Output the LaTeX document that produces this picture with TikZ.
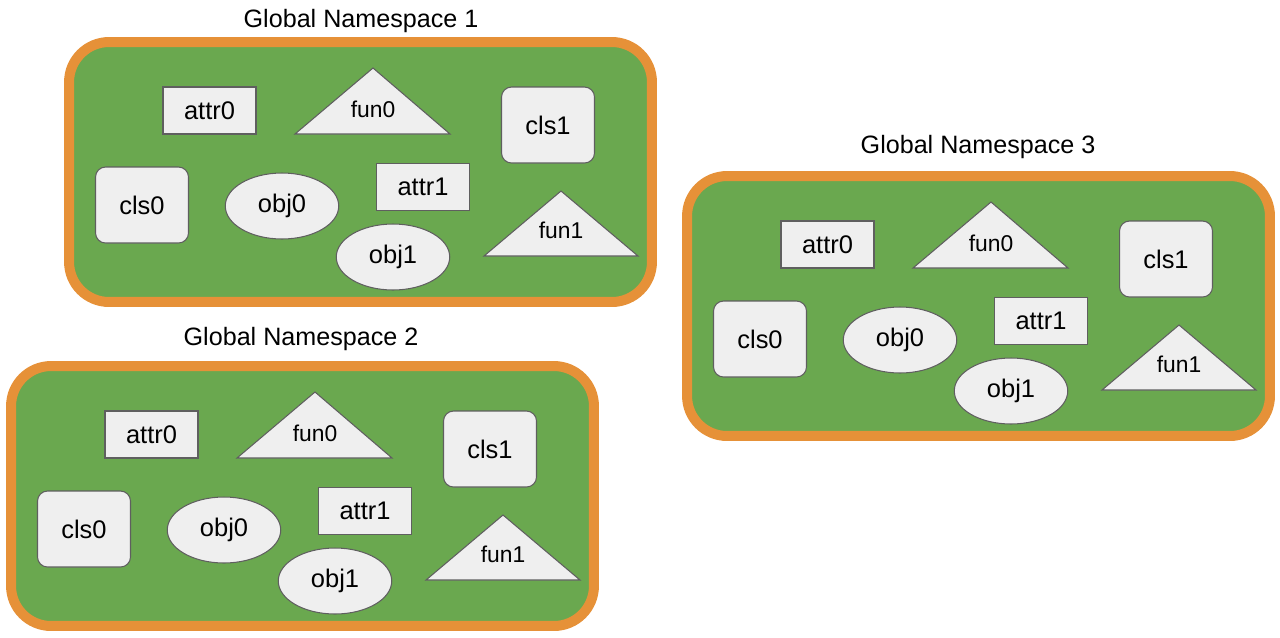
\documentclass[tikz,border=0pt]{standalone}
\usepackage{fontspec}
\setmainfont{Liberation Sans}
\usetikzlibrary{shapes.geometric, positioning}
\definecolor{frameorange}{HTML}{E69138}
\definecolor{spacegreen}{HTML}{6AA84F}
\definecolor{itemfill}{HTML}{EFEFEF}
\definecolor{itemline}{HTML}{5F5F5F}
\tikzset{
  nsframe/.style={
    rectangle, rounded corners=0.8cm,
    draw=frameorange, fill=spacegreen, line width=0.2cm,
    minimum width=11.66cm, minimum height=5.2cm
  },
  nstitle/.style={anchor=base, font=\fontsize{14.3}{17}\selectfont},
  item/.style={
    draw=itemline, fill=itemfill, line width=0.6pt, inner sep=0pt,
    font=\fontsize{14.5}{17}\selectfont
  },
  attrbox/.style={item, rectangle, minimum width=1.86cm, minimum height=0.94cm},
  clsbox/.style={item, rectangle, rounded corners=0.2cm, minimum width=1.86cm, minimum height=1.52cm},
  objbox/.style={item, ellipse, minimum width=2.27cm, minimum height=1.32cm},
  funshape/.style={draw=itemline, fill=itemfill, line width=0.6pt, line join=miter},
  funlabel/.style={inner sep=0pt, font=\fontsize{13}{15}\selectfont},
}

\begin{document}
\begin{tikzpicture}[x=0.02cm, y=-0.02cm]
  \useasboundingbox (0,0) rectangle (1280,637);

  \foreach \ns/\dx/\dy in {1/0/0, 2/-58/324, 3/618/134} {
    \begin{scope}[shift={(\dx,\dy)}]
      \node[nsframe] (ns\ns) at (360.5,172) {};

      \draw[funshape] (295,134) -- (450,134) -- (373,68) -- cycle;
      \draw[funshape] (484,256) -- (638,256) -- (561,191) -- cycle;

      \node[attrbox] (attr0-\ns) at (209.5,110.5) {attr0};
      \node[funlabel] (fun0-\ns) at (373,109) {fun0};
      \node[clsbox] (cls1-\ns) at (548,125) {cls1};
      \node[clsbox] (cls0-\ns) at (142,205) {cls0};
      \node[objbox] (obj0-\ns) at (282,206) {obj0};
      \node[attrbox] (attr1-\ns) at (423,187) {attr1};
      \node[objbox] (obj1-\ns) at (393,257) {obj1};
      \node[funlabel] (fun1-\ns) at (561,230) {fun1};
    \end{scope}
  }

  \node[nstitle] (title1) at (361,27) {Global Namespace 1};
  \node[nstitle] (title2) at (301,345) {Global Namespace 2};
  \node[nstitle] (title3) at (978,153) {Global Namespace 3};
\end{tikzpicture}
\end{document}
